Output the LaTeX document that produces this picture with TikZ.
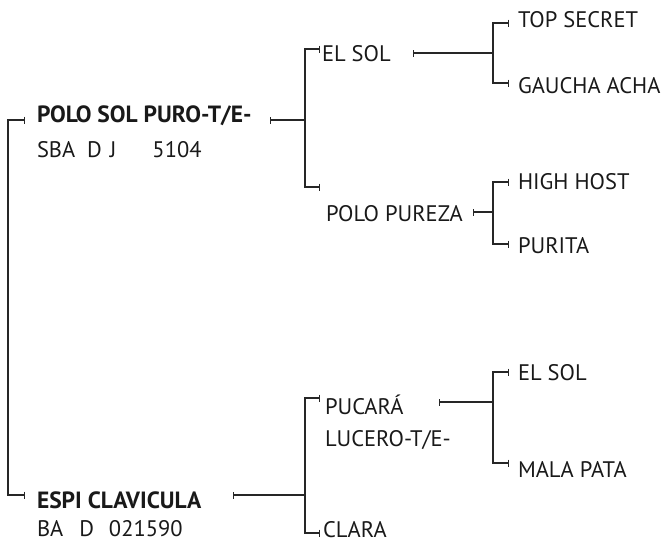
\documentclass[tikz,border=0pt]{standalone}
\usepackage{fontspec}
\setmainfont{PT Sans}
\usetikzlibrary{arrows.meta}
\tikzset{
  lbl/.style={anchor=base west, inner sep=0pt, outer sep=0pt, font=\fontsize{22.5}{27}\selectfont, text=black!90},
  blbl/.style={lbl, font=\fontsize{23.5}{28}\selectfont\bfseries},
  conn/.style={line width=1.3pt, black!85},
  tk/.tip={Bar[width=7pt, line width=1.1pt]}
}
\begin{document}
\begin{tikzpicture}[x=1pt, y=-1pt]
\useasboundingbox (0,0) rectangle (667,542);
% text nodes
\node[blbl] (polo) at (37,122) {POLO SOL PURO-T/E-};
\node[lbl] (polocode) at (37,157) {SBA\hspace{12pt}D\hspace{8pt}J\hspace{36pt}5104};
\node[lbl] (elsol1) at (322,61) {EL SOL};
\node[lbl] (top) at (518,27) {TOP SECRET};
\node[lbl] (gaucha) at (518,93) {GAUCHA ACHA};
\node[lbl] (pureza) at (326,221) {POLO PUREZA};
\node[lbl] (high) at (518,189) {HIGH HOST};
\node[lbl] (purita) at (518,253) {PURITA};
\node[blbl] (espi) at (37,508) {ESPI CLAVICULA};
\node[lbl] (espicode) at (37,536) {BA\hspace{16pt}D\hspace{15pt}021590};
\node[lbl] (pucara) at (325,414) {PUCARÁ};
\node[lbl] (lucero) at (325,446) {LUCERO-T/E-};
\node[lbl] (clara) at (323,537) {CLARA};
\node[lbl] (elsol2) at (518,380) {EL SOL};
\node[lbl] (mala) at (518,477) {MALA PATA};
% connector end points
\coordinate (r-top) at (25,120);
\coordinate (r-bot) at (25,495);
\coordinate (r-v) at (8,120);
\coordinate (polo-out) at (270,120);
\coordinate (j1) at (305,120);
\coordinate (elsol1-in) at (320,49);
\coordinate (pureza-in) at (320,187);
\coordinate (elsol1-out) at (413,53);
\coordinate (j2) at (493,53);
\coordinate (top-in) at (509,23);
\coordinate (gaucha-in) at (509,83);
\coordinate (pureza-out) at (473,212);
\coordinate (j3) at (493,212);
\coordinate (high-in) at (509,182);
\coordinate (purita-in) at (509,244);
\coordinate (espi-out) at (233,495);
\coordinate (j4) at (305,495);
\coordinate (pucara-in) at (320,398);
\coordinate (clara-in) at (320,533);
\coordinate (pucara-out) at (439,402);
\coordinate (j5) at (493,402);
\coordinate (elsol2-in) at (509,372);
\coordinate (mala-in) at (509,463);
% root bracket
\draw[conn, tk-tk] (r-top) -- (r-v) |- (r-bot);
% POLO SOL subtree
\draw[conn, tk-] (polo-out) -- (j1);
\draw[conn, -tk] (j1) |- (elsol1-in);
\draw[conn, -tk] (j1) |- (pureza-in);
\draw[conn, tk-] (elsol1-out) -- (j2);
\draw[conn, -tk] (j2) |- (top-in);
\draw[conn, -tk] (j2) |- (gaucha-in);
\draw[conn, tk-] (pureza-out) -- (j3);
\draw[conn, -tk] (j3) |- (high-in);
\draw[conn, -tk] (j3) |- (purita-in);
% ESPI subtree
\draw[conn, tk-] (espi-out) -- (j4);
\draw[conn, -tk] (j4) |- (pucara-in);
\draw[conn, -tk] (j4) |- (clara-in);
\draw[conn, tk-] (pucara-out) -- (j5);
\draw[conn, -tk] (j5) |- (elsol2-in);
\draw[conn, -tk] (j5) |- (mala-in);
\end{tikzpicture}
\end{document}
